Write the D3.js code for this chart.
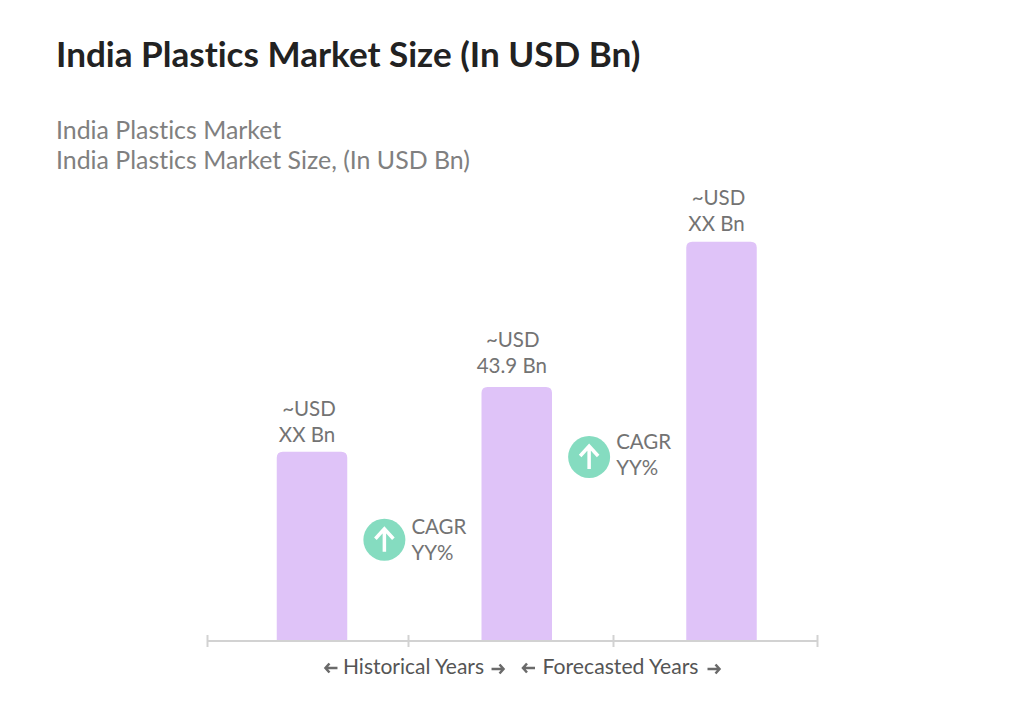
<!DOCTYPE html>
<html>
<head>
<meta charset="utf-8">
<script src="https://cdnjs.cloudflare.com/ajax/libs/d3/7.8.5/d3.min.js"></script>
<style>
  html, body { margin: 0; padding: 0; background: #fff; }
  svg { display: block; font-family: Lato, sans-serif; font-variant-ligatures: none; }
</style>
</head>
<body>
<svg id="chart" width="1024" height="703"></svg>
<script>
// values, only 43.9 is printed on it
const categories = ['Start', 'Base', 'Forecast'];
const marketSize = [32.7, 43.9, 69];
const valueLabels = ['XX Bn', '43.9 Bn', 'XX Bn'];
const axisEdges = ['e0', 'e1', 'e2', 'e3'];
const cagrLabels = ['YY%', 'YY%'];
const cagrLevels = [17.5, 31.8];
const periodLabels = ['Historical Years', 'Forecasted Years'];

const svg = d3.select('#chart');
const baseY = 641;

const x = d3.scalePoint().domain(categories).range([312, 721.5]);
const y = d3.scaleLinear().domain([0, 43.9]).range([baseY, 387]);
const edgeX = d3.scaleOrdinal().domain(axisEdges).range([207, 408, 613, 817]);

svg.append('text').attr('x', 56).attr('y', 67)
  .attr('font-size', 35.1).attr('font-weight', 700).attr('fill', '#222')
  .text('India Plastics Market Size (In USD Bn)');

svg.append('text').attr('x', 56).attr('y', 139)
  .attr('font-size', 24.9).attr('fill', '#808080')
  .text('India Plastics Market');
svg.append('text').attr('x', 56).attr('y', 169)
  .attr('font-size', 24.9).attr('fill', '#808080')
  .text('India Plastics Market Size, (In USD Bn)');

// bars, rounded only at the top
const barW = 70.5, r = 6;
svg.selectAll('path.bar').data(categories).join('path')
  .attr('class', 'bar')
  .attr('fill', '#dfc3f8')
  .attr('d', (d, i) => {
    const l = x(d) - barW / 2, t = y(marketSize[i]);
    return `M${l},${baseY}V${t + r}Q${l},${t} ${l + r},${t}H${l + barW - r}Q${l + barW},${t} ${l + barW},${t + r}V${baseY}Z`;
  });

// axis with ticks going both ways
const axis = svg.append('g').attr('transform', `translate(0,${baseY})`)
  .call(d3.axisBottom(edgeX).tickValues(axisEdges).tickSize(6).tickFormat(''));
axis.selectAll('path, line').attr('stroke', '#d2d2d2').attr('stroke-width', 2);
axis.select('.domain').attr('d', `M${edgeX('e0')},0H${edgeX('e3')}`);
axis.selectAll('.tick line').attr('y1', -6);

// value labels above bars, the reference does not sit them evenly
const labelLift = [0, 4, 1];
categories.forEach((c, i) => {
  const g = svg.append('g').attr('font-size', 20.5).attr('fill', '#737373').attr('text-anchor', 'middle');
  const t = y(marketSize[i]) - labelLift[i];
  g.append('text').attr('x', x(c) - 3 - (i === 1 ? 1 : 0)).attr('y', t - 36).text('~USD');
  g.append('text').attr('x', x(c) - 5).attr('y', t - 10).text(valueLabels[i]);
});

// CAGR badges between bars
cagrLabels.forEach((label, i) => {
  const mid = (x(categories[i]) + x(categories[i + 1])) / 2;
  const cy = y(cagrLevels[i]);
  const lift = i ? 2 : 0;
  const g = svg.append('g');
  g.append('circle').attr('cx', mid - 30).attr('cy', cy).attr('r', 21).attr('fill', '#85dcc0');
  g.append('path')
    .attr('d', `M${mid - 30},${cy + 12}V${cy - 11}M${mid - 39},${cy - 1}L${mid - 30},${cy - 11}L${mid - 21},${cy - 1}`)
    .attr('fill', 'none').attr('stroke', '#fff').attr('stroke-width', 3.5);
  g.append('text').attr('x', mid - 3).attr('y', cy - 6 - lift).attr('font-size', 20.5).attr('fill', '#737373').text('CAGR');
  g.append('text').attr('x', mid - 3).attr('y', cy + 20 - lift).attr('font-size', 20.5).attr('fill', '#737373').text(label);
});

// period labels with small arrows
function arrow(ax, ay, dir) {
  svg.append('path')
    .attr('d', `M${ax - dir * 6},${ay}H${ax + dir * 6}M${ax + dir * 2},${ay - 4.5}L${ax + dir * 6},${ay}L${ax + dir * 2},${ay + 4.5}`)
    .attr('fill', 'none').attr('stroke', '#6a6a6a').attr('stroke-width', 2.5);
}
const centers = [413.5, 620.5];
const fontSizes = [21, 21.2];
periodLabels.forEach((label, i) => {
  const t = svg.append('text').attr('x', centers[i]).attr('y', 673.5 + (i ? 0.5 : 0))
    .attr('text-anchor', 'middle').attr('font-size', fontSizes[i]).attr('fill', '#555').text(label);
  const w = t.node().getComputedTextLength();
  arrow(centers[i] - w / 2 - 11.5 - i * 2, 668, -1);
  arrow(centers[i] + w / 2 + 13.5 + i * 1.5, 669, 1);
});
</script>
</body>
</html>
